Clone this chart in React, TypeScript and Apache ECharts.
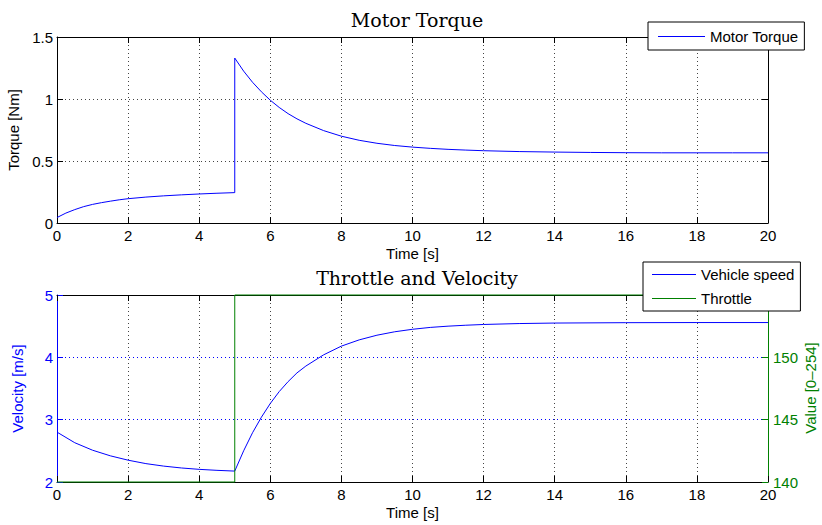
import React, { useEffect, useRef } from "react";
import * as echarts from "echarts";

// Motor torque (top panel)
const torqueTime = [0, 0.25, 0.5, 0.75, 1, 1.25, 1.5, 1.75, 2, 2.5, 3, 3.5, 4, 4.5, 5, 5, 5.25, 5.5, 5.75, 6, 6.25, 6.5, 6.75, 7, 7.5, 8, 8.5, 9, 9.5, 10, 10.5, 11, 11.5, 12, 13, 14, 15, 16, 17, 18, 19, 20];
const torqueValues = [0.044, 0.08, 0.108, 0.132, 0.15, 0.164, 0.176, 0.187, 0.196, 0.209, 0.219, 0.227, 0.234, 0.24, 0.245, 1.33, 1.225, 1.135, 1.058, 0.99, 0.932, 0.882, 0.84, 0.804, 0.745, 0.7, 0.667, 0.643, 0.625, 0.612, 0.602, 0.594, 0.588, 0.583, 0.576, 0.572, 0.569, 0.567, 0.566, 0.566, 0.566, 0.566];

// Vehicle speed (bottom panel, left axis)
const speedTime = [0, 0.5, 1, 1.5, 2, 2.5, 3, 3.5, 4, 4.5, 5, 5.25, 5.5, 5.75, 6, 6.25, 6.5, 6.75, 7, 7.5, 8, 8.5, 9, 9.5, 10, 10.5, 11, 11.5, 12, 13, 14, 16, 18, 20];
const speedValues = [2.8, 2.63, 2.51, 2.42, 2.35, 2.295, 2.255, 2.225, 2.203, 2.187, 2.175, 2.5, 2.79, 3.04, 3.26, 3.45, 3.61, 3.75, 3.86, 4.04, 4.18, 4.28, 4.355, 4.41, 4.45, 4.48, 4.5, 4.515, 4.527, 4.542, 4.55, 4.556, 4.558, 4.558];

// Throttle (bottom panel, right axis)
const throttleTime = [0, 5, 5, 20];
const throttleValues = [140, 140, 155, 155];

const xTicks = { min: 0, max: 20, interval: 2 };

const FONT = "'Liberation Sans', Arial, sans-serif";
const SERIF = "'DejaVu Serif', 'Liberation Serif', serif";
const BLUE = "#0000ff";
const GREEN = "#008000";
const FS = 15;

export default function App() {
  const ref = useRef<HTMLDivElement>(null);
  useEffect(() => {
    if (!ref.current) return;
    const chart = echarts.init(ref.current, null, { renderer: "svg" });
    const zip = (xs: number[], ys: number[]) => xs.map((x, i) => [x, ys[i]]);
    const tick = (color: string) => ({ show: true, inside: true, length: 6, lineStyle: { color } });
    const grid = (color: string) => ({ show: true, lineStyle: { color, type: [1, 3] as any, width: 1 } });
    const axLine = (color: string) => ({ show: true, onZero: false, lineStyle: { color, width: 1 } });
    const lab = (color: string, margin = 5) => ({ color, fontFamily: FONT, fontSize: FS, margin });

    const bottomX = (gridIndex: number) => ({
      type: "value", gridIndex, position: "bottom", ...xTicks,
      name: "Time [s]", nameLocation: "middle", nameGap: 23,
      nameTextStyle: { color: "#000", fontFamily: FONT, fontSize: FS },
      axisLine: axLine("#000"), axisTick: tick("#000"), axisLabel: lab("#000", 5),
      splitLine: grid("#444"),
    });
    const topX = (gridIndex: number) => ({
      type: "value", gridIndex, position: "top", ...xTicks,
      axisLine: axLine("#000"), axisTick: tick("#000"), axisLabel: { show: false },
      splitLine: { show: false },
    });
    const titleStyle = { fontFamily: SERIF, fontSize: 19, fontWeight: "normal", color: "#000" };
    const legendStyle = {
      orient: "vertical", itemHeight: 1, icon: "rect", itemGap: 9,
      backgroundColor: "#fff", borderColor: "#000", borderWidth: 1, borderRadius: 0,
      textStyle: { fontFamily: FONT, fontSize: FS, color: "#000" },
    };

    chart.setOption({
      animation: false,
      backgroundColor: "#fff",
      title: [
        { text: "Motor Torque", left: 412, top: 5, textAlign: "center", textStyle: titleStyle },
        { text: "Throttle and Velocity", left: 412, top: 263, textAlign: "center", textStyle: titleStyle },
      ],
      legend: [
        { ...legendStyle, data: ["Motor Torque"], left: 648, top: 22,
          padding: [7, 6, 6, 10], itemWidth: 47 },
        { ...legendStyle, data: ["Vehicle speed", "Throttle"], left: 643, top: 262,
          padding: [5, 6, 5, 9], itemWidth: 44 },
      ],
      graphic: [
        { type: "text", x: 810, y: 388, rotation: Math.PI / 2, silent: true,
          style: { text: "Value [0\u2013254]", fill: GREEN, font: `${FS}px ${FONT}`,
            textAlign: "center", textVerticalAlign: "middle" } },
      ],
      grid: [
        { left: 57, right: 54, top: 37, height: 186, containLabel: false, outerBoundsMode: "none" },
        { left: 57, right: 54, top: 295, height: 187, containLabel: false, outerBoundsMode: "none" },
      ],
      xAxis: [bottomX(0), topX(0), bottomX(1), topX(1)],
      yAxis: [
        { type: "value", gridIndex: 0, position: "left", min: 0, max: 1.5, interval: 0.5,
          name: "Torque [Nm]", nameLocation: "middle", nameGap: 32, nameRotate: 90,
          nameTextStyle: { color: "#000", fontFamily: FONT, fontSize: FS },
          axisLine: axLine("#000"), axisTick: tick("#000"), axisLabel: lab("#000", 4),
          splitLine: grid("#444") },
        { type: "value", gridIndex: 0, position: "right", min: 0, max: 1.5, interval: 0.5,
          axisLine: axLine("#000"), axisTick: tick("#000"), axisLabel: { show: false },
          splitLine: { show: false } },
        { type: "value", gridIndex: 1, position: "left", min: 2, max: 5, interval: 1,
          name: "Velocity [m/s]", nameLocation: "middle", nameGap: 32, nameRotate: 90,
          nameTextStyle: { color: BLUE, fontFamily: FONT, fontSize: FS },
          axisLine: axLine(BLUE), axisTick: tick(BLUE), axisLabel: lab(BLUE, 4),
          splitLine: grid(BLUE) },
        { type: "value", gridIndex: 1, position: "right", min: 140, max: 155, interval: 5,
          axisLine: axLine(GREEN), axisTick: tick(GREEN), axisLabel: lab(GREEN, 5),
          splitLine: { show: false } },
      ],
      series: [
        { name: "Motor Torque", type: "line", xAxisIndex: 0, yAxisIndex: 0,
          data: zip(torqueTime, torqueValues), showSymbol: false, symbol: "none",
          lineStyle: { color: BLUE, width: 1 }, itemStyle: { color: BLUE } },
        { name: "Vehicle speed", type: "line", xAxisIndex: 2, yAxisIndex: 2,
          data: zip(speedTime, speedValues), showSymbol: false, symbol: "none",
          lineStyle: { color: BLUE, width: 1 }, itemStyle: { color: BLUE } },
        { name: "Throttle", type: "line", xAxisIndex: 2, yAxisIndex: 3, clip: false,
          data: zip(throttleTime, throttleValues), showSymbol: false, symbol: "none",
          lineStyle: { color: GREEN, width: 1 }, itemStyle: { color: GREEN } },
      ],
    });
    return () => chart.dispose();
  }, []);
  return (
    <div
      ref={ref}
      style={{ position: "absolute", left: 0, top: 0, width: 822, height: 525, background: "#fff" }}
    />
  );
}
